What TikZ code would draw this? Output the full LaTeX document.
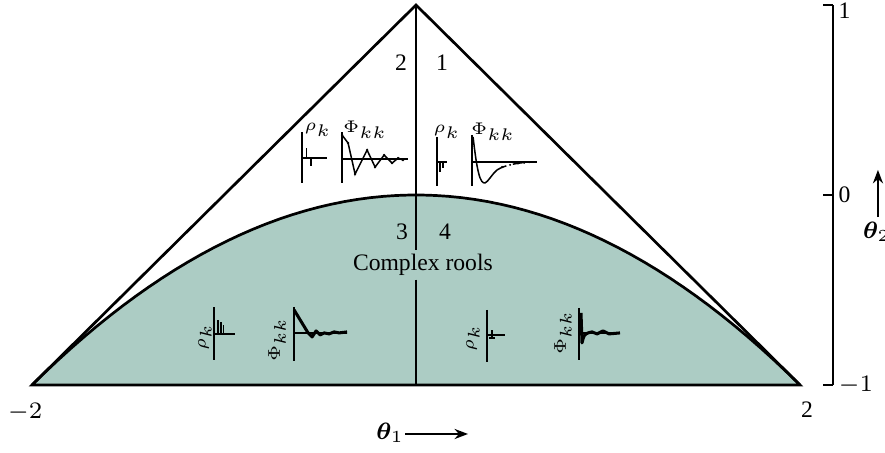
\documentclass[tikz,border=0pt]{standalone}
\usepackage{fontspec}
\setmainfont{Liberation Serif}
\usepackage{bm}
\usetikzlibrary{arrows.meta,calc,positioning}
\definecolor{rootshade}{RGB}{172,204,196}

\tikzset{
  edge/.style={line width=0.8pt},
  sketch/.style={line width=0.45pt},
  wiggle/.style={line width=0.9pt, line join=round},
  lbl/.style={font=\fontsize{7}{8}\selectfont, inner sep=1pt},
  acflbl/.style={font=\fontsize{5}{6}\selectfont, inner sep=0pt},
  pixgrid/.style={x=0.0104167cm, y=0.0104167cm},
}

\begin{document}
\begin{tikzpicture}[x=2cm,y=1.979cm]
  \useasboundingbox (-2.1667,-1.3579) rectangle (2.4427,1.0263);

  % corners of the triangle
  \coordinate (left) at (-2,-1);
  \coordinate (right) at (2,-1);
  \coordinate (top) at (0,1);
  \coordinate (base) at (0,-1);

  % complex roots below the parabola
  \fill[rootshade] (left) -- plot[domain=-2:2, samples=60] (\x,{-\x*\x/4}) -- (right) -- cycle;
  \draw[edge] plot[domain=-2:2, samples=60] (\x,{-\x*\x/4});
  \draw[edge] (left) -- (top) -- (right) -- cycle;
  \node[lbl, fill=rootshade] (complex) at (0.036,-0.368) {Complex rools};
  \draw[edge] (top) -- (top |- complex.north);
  \draw[edge] (base |- complex.south) -- (base);

  % region numbers
  \foreach \x/\y/\n in {-0.078/0.695/2, 0.135/0.695/1, -0.073/-0.195/3, 0.151/-0.195/4}
    \node[lbl] (reg\n) at (\x,\y) {\n};

  % region 2
  \begin{scope}[shift={(-0.594,0.195)}, pixgrid]
    \draw[sketch] (0,26) -- (0,-25) (0,0) -- (25,0);
    \draw[sketch] (4.7,0) -- (4.7,10) (9,0) -- (9,-8);
    \node[acflbl] (rhoA) at (16,28) {$\rho_k$};
  \end{scope}
  \begin{scope}[shift={(-0.385,0.189)}, pixgrid]
    \draw[sketch] (0,27) -- (0,-24) (0,0) -- (66,0);
    \draw[sketch] (0,24) -- (6,16) -- (13,-15) -- (25,9) -- (33,-8) -- (42,4) -- (50,-4) -- (56,1) -- (61,-1);
    \foreach \px/\py in {0/24, 6/16, 13/-15, 25/9, 33/-8, 42/4, 50/-4, 56/1, 61/-1}
      \fill (\px,\py) circle[radius=1.3];
    \node[acflbl] (phiA) at (23,29) {$\Phi_{kk}$};
  \end{scope}

  % region 1
  \begin{scope}[shift={(0.109,0.174)}, pixgrid]
    \draw[sketch] (0,25) -- (0,-24) (0,0) -- (10,0);
    \draw[sketch] (3,0) -- (3,-10) (6,0) -- (6,-6);
    \node[acflbl] (rhoB) at (10,30) {$\rho_k$};
  \end{scope}
  \begin{scope}[shift={(0.292,0.174)}, pixgrid]
    \draw[sketch] (0,27) -- (0,-24) (0,0) -- (65,0);
    \draw[sketch] (1,25) .. controls (5,-10) and (8,-22) .. (13,-21) .. controls (16,-20) and (20,-12) .. (25,-8);
    \draw[sketch, densely dashed] (25,-8) .. controls (33,-3) and (45,-1) .. (58,0);
    \foreach \px/\py in {30/-5, 38/-3, 46/-1.6, 52/-0.9, 57/-0.3}
      \fill (\px,\py) circle[radius=1.1];
    \node[acflbl] (phiB) at (21,30) {$\Phi_{kk}$};
  \end{scope}

  % region 3
  \begin{scope}[shift={(-1.052,-0.732)}, pixgrid]
    \draw[sketch] (0,27) -- (0,-26) (0,0) -- (21,0);
    \draw[sketch] (4,0) -- (4,14) (7,0) -- (7,12) (9.5,0) -- (9.5,9);
    \node[acflbl, rotate=90] (rhoC) at (-9,-3) {$\rho_k$};
  \end{scope}
  \begin{scope}[shift={(-0.635,-0.726)}, pixgrid]
    \draw[sketch] (0,26) -- (0,-28) (0,0) -- (53,0);
    \draw[wiggle] (0,23) -- (14,0) -- (18,-4) -- (22,2) -- (26,-2) -- (30,0) -- (35,-1) -- (40,1) -- (45,0) -- (53,1);
    \node[acflbl, rotate=90] (phiC) at (-17,-7) {$\Phi_{kk}$};
  \end{scope}

  % region 4
  \begin{scope}[shift={(0.370,-0.737)}, pixgrid]
    \draw[sketch] (0,25) -- (0,-27) (0,0) -- (18,0);
    \draw[sketch] (5,5) -- (5,-4) (2,-3) -- (8,-3);
    \node[acflbl, rotate=90] (rhoD) at (-14,-3) {$\rho_k$};
  \end{scope}
  \begin{scope}[shift={(0.849,-0.726)}, pixgrid]
    \draw[sketch] (0,25) -- (0,-27) (0,0) -- (41,0);
    \draw[wiggle] (2,20) -- (3,-10) .. controls (5,-2) .. (9,0) -- (13,1) -- (18,-1) -- (24,2) -- (30,-1) -- (41,0);
    \node[acflbl, rotate=90] (phiD) at (-16,0) {$\Phi_{kk}$};
  \end{scope}

  % theta_1 axis
  \node[lbl] (xmin) at (-2.036,-1.142) {$-2$};
  \node[lbl] (xmax) at (2.036,-1.132) {2};
  \node[lbl] (theta1) at (-0.135,-1.253) {$\bm{\theta}_1$};
  \coordinate (t1a) at (-0.057,-1.258);
  \coordinate (t1b) at (0.271,-1.258);
  \draw[-{Stealth[length=4pt,width=3pt]}, line width=0.6pt] (t1a) -- (t1b);

  % theta_2 axis
  \coordinate (ytop) at (2.172,1);
  \coordinate (ybot) at (2.172,-1);
  \draw[edge] (ytop) -- (ybot);
  \foreach \v/\t/\n/\dy in {1/1/top/-0.03, 0/0/mid/0, -1/$-1$/bot/0} {
    \draw[edge] (2.12,\v) -- (2.172,\v);
    \node[lbl, anchor=west] (tick\n) at (2.18,\v+\dy) {\t};
  }
  \coordinate (t2a) at (2.406,-0.116);
  \coordinate (t2b) at (2.406,0.132);
  \draw[-{Stealth[length=4pt,width=3pt]}, line width=0.6pt] (t2a) -- (t2b);
  \node[lbl] (theta2) at (2.40,-0.195) {$\bm{\theta}_2$};
\end{tikzpicture}
\end{document}
